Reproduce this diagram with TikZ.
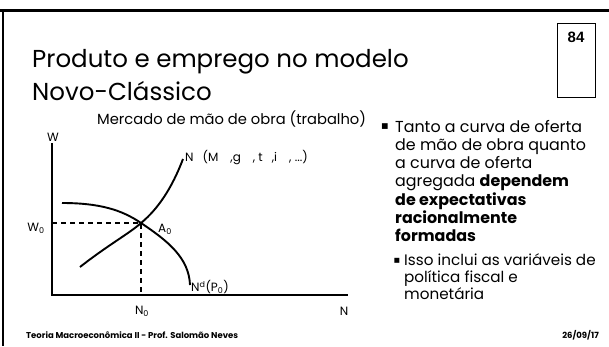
\documentclass[tikz,border=0pt]{standalone}
\usepackage{fontspec}
\setmainfont{Poppins}
\newfontfamily\arialfont{Liberation Sans}
\newfontfamily\symfont{DejaVu Sans}
\begin{document}
\begin{tikzpicture}[x=1pt,y=-1pt,
  frameline/.style={line width=2.4pt},
  axisline/.style={line width=1.8pt},
  curveline/.style={line width=1.9pt},
  guideline/.style={line width=1.4pt, dash pattern=on 5pt off 4pt},
  lbl/.style={inner sep=0pt, font=\fontsize{12}{14}\selectfont},
  bodytext/.style={inner sep=0pt, anchor=base west, align=left}]
\useasboundingbox (0,0) rectangle (609,346);
% slide frame
\draw[frameline] (0,10.5) -- (609,10.5);
\draw[frameline] (3,10.5) -- (3,346);
% page number box
\node[draw, line width=0.8pt, minimum width=38pt, minimum height=74pt, inner sep=0pt] (pbox) at (576,60) {};
\node[inner sep=0pt, font=\arialfont\bfseries\fontsize{15}{17}\selectfont] (pnum) at (576,37) {84};
% title
\node[bodytext, font=\fontsize{24.5}{30}\selectfont] (t1) at (32,67) {Produto e emprego no modelo};
\node[bodytext, font=\fontsize{24.5}{30}\selectfont] (t2) at (32,100) {Novo-Clássico};
\node[bodytext, font=\fontsize{14.7}{16}\selectfont] (sub) at (97,124) {Mercado de mão de obra (trabalho)};
% axes
\coordinate (o) at (52,295);
\coordinate (ytop) at (52,143);
\coordinate (xend) at (348,295);
\draw[axisline] (ytop) -- (o) -- (xend);
\node[lbl] (W) at (53,137) {W};
\node[lbl] (N) at (344,311) {N};
% equilibrium
\coordinate (A) at (141,223);
\coordinate (W0p) at (52,223);
\coordinate (N0p) at (141,295);
\draw[guideline] (W0p) -- (A) -- (N0p);
\node[lbl] (W0) at (36,228) {W$_{\mathrm{0}}$};
\node[lbl] (N0) at (142,311) {N$_{\mathrm{0}}$};
\node[lbl] (A0) at (165,229) {A$_{\mathrm{0}}$};
% supply curve
\coordinate (s0) at (80,267);
\coordinate (s1) at (183,159);
\draw[curveline] (s0) .. controls (108,245) and (130,233) .. (A) .. controls (158,209) and (172,188) .. (s1);
% demand curve
\coordinate (d0) at (62,203);
\coordinate (d1) at (190,285);
\draw[curveline] (d0) .. controls (100,203) and (122,210) .. (A) .. controls (168,241) and (189,258) .. (d1);
\node[lbl, anchor=west] (Nd) at (191,287) {N\textsuperscript{d}(P$_{\mathrm{0}}$)};
\node[lbl, anchor=west] (Ns) at (185,158) {N\hspace{9pt}(M\hspace{12pt},g\hspace{12pt}, t\hspace{9pt},i\hspace{12pt}, ...)};
% bullets
\node[inner sep=0pt, font=\symfont\fontsize{7.5}{8}\selectfont] (b1) at (385,127) {■};
\node[bodytext, font=\fontsize{15.9}{18.3}\selectfont] (txt1) at (395,241.8)
 {Tanto a curva de oferta\\de mão de obra quanto\\a curva de oferta\\agregada \textbf{dependem}\\\textbf{de expectativas}\\\textbf{racionalmente}\\\textbf{formadas}};
\node[inner sep=0pt, font=\symfont\fontsize{6.5}{7}\selectfont] (b2) at (397,261) {■};
\node[bodytext, font=\fontsize{15.2}{17}\selectfont] (txt2) at (404,299)
 {Isso inclui as variáveis de\\política fiscal e\\monetária};
% footer
\node[bodytext, font=\bfseries\fontsize{8.5}{10}\selectfont] (foot) at (26,338) {Teoria Macroeconômica II - Prof. Salomão Neves};
\node[inner sep=0pt, anchor=base east, font=\bfseries\fontsize{8.5}{10}\selectfont] (date) at (599,338) {26/09/17};
\end{tikzpicture}
\end{document}
